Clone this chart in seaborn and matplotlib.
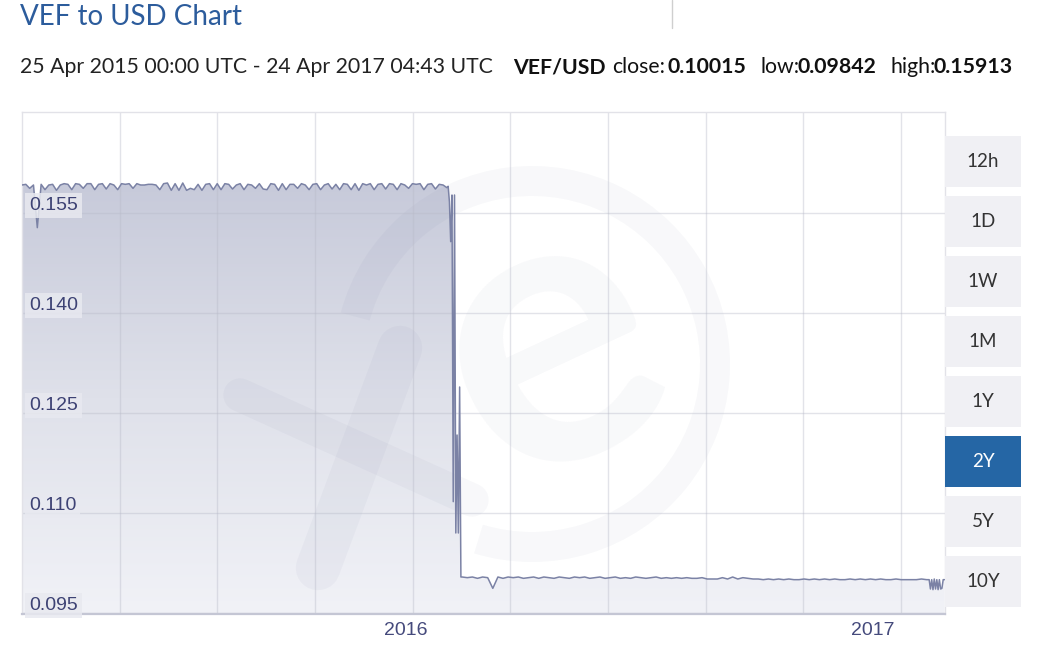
import numpy as np
import pandas as pd
import matplotlib
matplotlib.use("Agg")
import matplotlib.pyplot as plt
import matplotlib.transforms as mtransforms
import matplotlib.dates as mdates
from matplotlib.patches import Rectangle, Wedge
from matplotlib.colors import LinearSegmentedColormap
import seaborn as sns

# --- データ (チャートから読み取り) ---
# 切り下げ前: 3日ごと
pre_start = "2015-03-28"
pre_values = [
    0.1592, 0.1593, 0.1587, 0.1592, 0.1528, 0.1593, 0.1585, 0.1592, 0.1593, 0.1584,
    0.1592, 0.1594, 0.1593, 0.1585, 0.1594, 0.1593, 0.1587, 0.1594, 0.1594, 0.1585,
    0.1593, 0.1594, 0.1586, 0.1594, 0.1592, 0.1585,
    0.1594, 0.1593, 0.1594, 0.1587, 0.1594, 0.1592, 0.1592, 0.1593, 0.1593, 0.1592,
    0.1585, 0.1594, 0.1595, 0.1584, 0.1594, 0.1584, 0.1595, 0.1584, 0.1587, 0.1585,
    0.1593, 0.1584, 0.1593, 0.1594, 0.1585,
    0.1594, 0.1585, 0.1594, 0.1593, 0.1586, 0.1592, 0.1594, 0.1585, 0.1593, 0.1592,
    0.1587, 0.1594, 0.1586, 0.1585, 0.1594, 0.1593, 0.1584, 0.1594, 0.1585, 0.1593,
    0.1593, 0.1587, 0.1594, 0.1592, 0.1585,
    0.1593, 0.1594, 0.1585, 0.1592, 0.1594, 0.1586, 0.1593, 0.1585, 0.1594, 0.1593,
    0.1585, 0.1594, 0.1584, 0.1594, 0.1592, 0.1594, 0.1585, 0.1593, 0.1594, 0.1586,
    0.1594, 0.1593, 0.1585, 0.1594, 0.1592, 0.1587,
    0.1594, 0.1593, 0.1594, 0.1585, 0.1593, 0.1594, 0.1586, 0.1593, 0.1592, 0.1588,
]
# 切り下げ期間: 毎日
drop_start = "2016-02-25"
drop_values = [0.1590, 0.1567, 0.1507, 0.1577, 0.1117, 0.1577, 0.1070, 0.1217,
               0.1070, 0.1289, 0.1004]
# 切り下げ後: 4日ごと
post_start = "2016-03-07"
post_values = [
    0.1004, 0.1003, 0.1004, 0.1002, 0.1004, 0.1003, 0.0987, 0.1004, 0.1002, 0.1004,
    0.1003, 0.1004, 0.1002, 0.1003, 0.1004, 0.1002, 0.1004, 0.1003, 0.1002, 0.1004,
    0.1003, 0.1002, 0.1004, 0.1003, 0.1004, 0.1002, 0.1003, 0.1004, 0.1002, 0.1003,
    0.1004, 0.1002, 0.1003, 0.1002, 0.1004, 0.1003, 0.1002, 0.1003, 0.1004, 0.1002,
    0.1003, 0.1002, 0.1003, 0.1002, 0.1003, 0.1002, 0.1002, 0.1003, 0.1001, 0.1001,
    0.1001, 0.1003, 0.1001, 0.1004, 0.1001, 0.1003, 0.1002, 0.1001, 0.1001, 0.1000,
    0.1001, 0.1000, 0.1001, 0.1000, 0.1001, 0.1000, 0.1000, 0.1001, 0.1000, 0.1001,
    0.1000, 0.1001, 0.1000, 0.1001, 0.1000, 0.1000, 0.1001, 0.1000, 0.1001, 0.1000,
    0.1001, 0.1000, 0.1001, 0.1000, 0.1000, 0.1001, 0.1000, 0.1000, 0.1000, 0.1000,
    0.1001, 0.1000,
]
# 最後の2週間: 毎日
end_start = "2017-03-07"
end_values = [0.1000, 0.1000, 0.0986, 0.1000, 0.0985, 0.1001, 0.0986, 0.1000,
              0.0985, 0.1000, 0.0986, 0.0987, 0.1000, 0.1000]

year_ticks = ["2016-01-01", "2017-01-01"]
year_labels = ["2016", "2017"]
y_ticks = [0.155, 0.140, 0.125, 0.110, 0.095]
y_labels = ["0.155", "0.140", "0.125", "0.110", "0.095"]
periods = ["12h", "1D", "1W", "1M", "1Y", "2Y", "5Y", "10Y"]
active_period = "2Y"

title = "VEF to USD Chart"
range_text = "25 Apr 2015 00:00 UTC - 24 Apr 2017 04:43 UTC"
stats = [("VEF/USD", "bold", 513), ("close:", "normal", 612), ("0.10015", "bold", 668),
         ("low:", "normal", 760), ("0.09842", "bold", 798), ("high:", "normal", 890),
         ("0.15913", "bold", 934)]

# DataFrame にまとめる
parts = [
    pd.DataFrame({"date": pd.date_range(pre_start, periods=len(pre_values), freq="3D"), "rate": pre_values}),
    pd.DataFrame({"date": pd.date_range(drop_start, periods=len(drop_values), freq="D"), "rate": drop_values}),
    pd.DataFrame({"date": pd.date_range(post_start, periods=len(post_values), freq="4D"), "rate": post_values}),
    pd.DataFrame({"date": pd.date_range(end_start, periods=len(end_values), freq="D"), "rate": end_values}),
]
df = pd.concat(parts, ignore_index=True)

sns.set_theme(style="white")
plt.rcParams['font.family'] = ['Lato', 'DejaVu Sans']

W, H = 1043, 649
fig = plt.figure(figsize=(W / 100, H / 100), dpi=100)
ax = fig.add_axes([22 / W, (H - 614) / H, 923 / W, (614 - 112) / H])

x0 = pd.Timestamp(pre_start)
x1 = pd.Timestamp(end_start) + pd.Timedelta(days=len(end_values) - 1) + pd.Timedelta(hours=10)
y0, y1 = 0.09485, 0.17015

# グラデーションの塗りつぶし
poly = ax.fill_between(df["date"], df["rate"], y0 - 0.001, color="none", lw=0)
grad = np.linspace(0, 1, 256).reshape(-1, 1)
cmap = LinearSegmentedColormap.from_list("xe", ["#f1f2f7", "#dfe1ea", "#c7cada"])
img = ax.imshow(grad, extent=[mdates.date2num(x0), mdates.date2num(x1), y0, 0.1596],
                origin="lower", aspect="auto", cmap=cmap, zorder=1, interpolation="bilinear")
img.set_clip_path(poly.get_paths()[0], transform=ax.transData)

# 透かし (xe ロゴ)
ident = mtransforms.IdentityTransform()
wm = dict(color="#3c4178", alpha=0.035, zorder=2)
ax.add_patch(Wedge((532, H - 364), 198, -107, 165, width=30, transform=ident,
                   facecolor=wm["color"], alpha=wm["alpha"], lw=0, zorder=2))
ax.text(548, H - 345, "e", transform=ident, fontsize=280, fontweight="bold",
        rotation=25, ha="center", va="center", **wm)
ax.add_line(plt.Line2D([240, 472], [H - 395, H - 500], transform=ident, lw=24,
                       solid_capstyle="round", **wm))
ax.add_line(plt.Line2D([400, 318], [H - 348, H - 568], transform=ident, lw=32,
                       solid_capstyle="round", **wm))

# グリッド線
for v in y_ticks:
    ax.axhline(v, color="#b8bac8", alpha=0.4, lw=1, zorder=2.5)
grid_step = (x1 - x0) / 9.45
for k in range(1, 10):
    ax.axvline(x0 + grid_step * k, color="#b8bac8", alpha=0.4, lw=1, zorder=2.5)

sns.lineplot(data=df, x="date", y="rate", ax=ax, color="#7b82a5", lw=1.1, zorder=3)

ax.set_xlim(x0, x1)
ax.set_ylim(y0, y1)
ax.set_xlabel("")
ax.set_ylabel("")
ax.set_yticks([])
ax.set_xticks(pd.to_datetime(year_ticks))
ax.tick_params(axis="x", length=22, width=1, color="#d8d8de", labelbottom=False, direction="out")
for d, lab in zip(pd.to_datetime(year_ticks), year_labels):
    ax.text(d + pd.Timedelta(days=5), -0.032, lab, transform=ax.get_xaxis_transform(),
            ha="left", va="center", fontsize=14, color="#454a7c", family=["Liberation Sans"])

for v, lab in zip(y_ticks, y_labels):
    ax.text(0.0075, v + 0.0005, lab, transform=ax.get_yaxis_transform(), ha="left",
            va="baseline", fontsize=14, color="#3d4274", family=["Liberation Sans"], zorder=4,
            bbox=dict(boxstyle="square,pad=0.2", fc="#e8e9f0", ec="none", alpha=0.85))

for s in ["top", "right", "left"]:
    ax.spines[s].set_color("#e2e2e8")
    ax.spines[s].set_linewidth(1)
ax.spines["bottom"].set_color("#c4c6d4")
ax.spines["bottom"].set_linewidth(1.6)

# タイトルと説明文
fig.text(20 / W, 1 - 17 / H, title, ha="left", va="center", fontsize=20,
         color="#2c5c9c")
fig.add_artist(plt.Line2D([672 / W, 672 / W], [1, 1 - 28 / H], color="#cfcfcf", lw=1))

renderer = fig.canvas.get_renderer()
t = fig.text(20 / W, 1 - 67 / H, range_text, ha="left", va="center", fontsize=14, color="#222222")
w = t.get_window_extent(renderer).width
fs = 14 * 473 / w
t.set_fontsize(fs)
for txt, wt, px in stats:
    fig.text(px / W, 1 - 67 / H, txt, ha="left", va="center", fontsize=fs,
             fontweight=wt, color="#111111")

# 期間ボタン
for i, p in enumerate(periods):
    top = 136 + 60 * i
    active = p == active_period
    fig.add_artist(Rectangle((945 / W, 1 - (top + 51) / H), 76 / W, 51 / H,
                             transform=fig.transFigure,
                             facecolor="#2566a5" if active else "#f0f0f4", lw=0))
    fig.text(983 / W, 1 - (top + 25.5) / H, p, ha="center", va="center", fontsize=13.5,
             color="white" if active else "#333333")

fig.savefig("out.png", dpi=100)
